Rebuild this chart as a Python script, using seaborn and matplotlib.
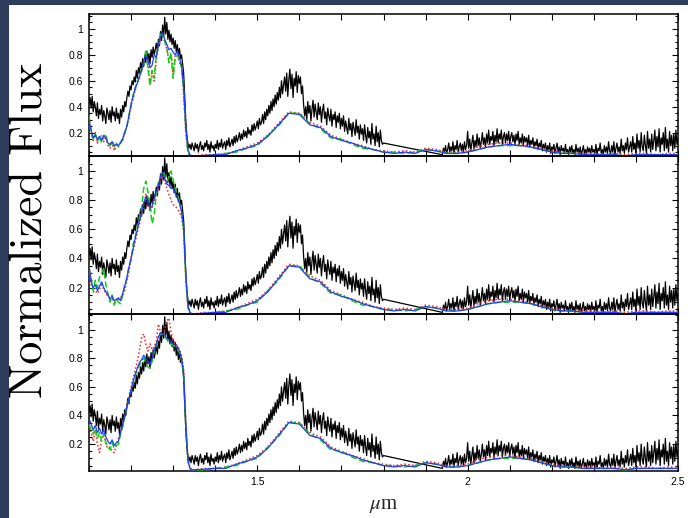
import numpy as np
import pandas as pd
import matplotlib
matplotlib.use("Agg")
import matplotlib.pyplot as plt
import seaborn as sns
from matplotlib.ticker import MultipleLocator, FuncFormatter
from matplotlib.patches import Rectangle

# ---------------- data ----------------
# observed spectrum (black), sampled every 0.0025 um, with a telluric gap 1.80-1.94
obs_wave_a = np.round(np.arange(1.100, 1.80001, 0.0025), 4)
obs_flux_a = [
    0.42, 0.47, 0.39, 0.48, 0.36, 0.44, 0.40, 0.33, 0.43, 0.31, 0.38, 0.34, 0.41, 0.29, 0.37, 0.33, 0.27, 0.39, 0.35, 0.30,
    0.37, 0.28, 0.40, 0.33, 0.36, 0.29, 0.39, 0.31, 0.35, 0.27, 0.38, 0.32, 0.41, 0.36, 0.44, 0.40, 0.47, 0.52, 0.48, 0.56,
    0.53, 0.60, 0.57, 0.63, 0.59, 0.68, 0.62, 0.70, 0.66, 0.74, 0.69, 0.77, 0.71, 0.80, 0.74, 0.83, 0.76, 0.81, 0.73, 0.84,
    0.78, 0.86, 0.80, 0.84, 0.89, 0.83, 0.92, 0.87, 0.98, 0.91, 1.03, 0.94, 1.09, 0.96, 1.05, 0.92, 0.99, 0.90, 0.96, 0.88,
    0.93, 0.85, 0.91, 0.82, 0.88, 0.79, 0.85, 0.77, 0.80, 0.73, 0.66, 0.48, 0.30, 0.18, 0.12, 0.08, 0.11, 0.07, 0.12, 0.09,
    0.06, 0.12, 0.08, 0.11, 0.05, 0.10, 0.13, 0.07, 0.10, 0.06, 0.12, 0.09, 0.14, 0.07, 0.11, 0.05, 0.13, 0.08, 0.10, 0.06,
    0.11, 0.08, 0.14, 0.07, 0.12, 0.09, 0.15, 0.08, 0.11, 0.13, 0.07, 0.14, 0.10, 0.16, 0.09, 0.12, 0.15, 0.10, 0.17, 0.12,
    0.18, 0.13, 0.16, 0.20, 0.14, 0.19, 0.15, 0.22, 0.17, 0.21, 0.16, 0.24, 0.19, 0.22, 0.18, 0.26, 0.21, 0.27, 0.22, 0.25,
    0.29, 0.23, 0.31, 0.26, 0.28, 0.34, 0.27, 0.36, 0.30, 0.38, 0.33, 0.41, 0.35, 0.44, 0.37, 0.46, 0.40, 0.49, 0.42, 0.51,
    0.45, 0.55, 0.47, 0.60, 0.50, 0.57, 0.63, 0.52, 0.66, 0.48, 0.61, 0.69, 0.54, 0.65, 0.47, 0.62, 0.56, 0.67, 0.51, 0.64,
    0.58, 0.63, 0.50, 0.56, 0.42, 0.33, 0.40, 0.30, 0.44, 0.35, 0.41, 0.29, 0.38, 0.45, 0.32, 0.42, 0.36, 0.30, 0.43, 0.34,
    0.40, 0.28, 0.37, 0.42, 0.31, 0.36, 0.26, 0.39, 0.33, 0.29, 0.38, 0.25, 0.34, 0.30, 0.36, 0.24, 0.33, 0.28, 0.35, 0.23,
    0.31, 0.25, 0.33, 0.21, 0.29, 0.24, 0.19, 0.31, 0.22, 0.27, 0.17, 0.28, 0.23, 0.18, 0.30, 0.20, 0.25, 0.15, 0.26, 0.19,
    0.23, 0.14, 0.26, 0.18, 0.12, 0.24, 0.16, 0.21, 0.11, 0.27, 0.15, 0.19, 0.10, 0.25, 0.13, 0.20, 0.09, 0.22, 0.14, 0.11,
    0.12,
]
obs_wave_b = np.round(np.arange(1.940, 2.50001, 0.0025), 4)
obs_flux_b = [
    0.03, 0.08, 0.05, 0.10, 0.04, 0.07, 0.12, 0.05, 0.09, 0.06, 0.13, 0.04, 0.10, 0.07, 0.14, 0.05, 0.09, 0.12, 0.06, 0.11,
    0.05, 0.13, 0.07, 0.10, 0.21, 0.08, 0.15, 0.06, 0.12, 0.18, 0.07, 0.14, 0.09, 0.19, 0.10, 0.16, 0.08, 0.13, 0.20, 0.11,
    0.16, 0.09, 0.19, 0.12, 0.22, 0.11, 0.17, 0.14, 0.21, 0.10, 0.18, 0.13, 0.23, 0.12, 0.19, 0.15, 0.22, 0.11, 0.17, 0.20,
    0.12, 0.19, 0.14, 0.21, 0.11, 0.17, 0.20, 0.13, 0.18, 0.10, 0.19, 0.14, 0.21, 0.11, 0.16, 0.12, 0.19, 0.10, 0.17, 0.13,
    0.16, 0.10, 0.18, 0.09, 0.14, 0.11, 0.16, 0.08, 0.13, 0.10, 0.15, 0.07, 0.12, 0.09, 0.14, 0.06, 0.11, 0.08, 0.12, 0.05,
    0.10, 0.06, 0.12, 0.04, 0.09, 0.07, 0.11, 0.04, 0.08, 0.12, 0.05, 0.09, 0.03, 0.10, 0.06, 0.08, 0.04, 0.11, 0.05, 0.07,
    0.03, 0.09, 0.05, 0.10, 0.04, 0.07, 0.03, 0.11, 0.05, 0.08, 0.04, 0.09, 0.03, 0.06, 0.10, 0.04, 0.07, 0.03, 0.09, 0.05,
    0.08, 0.03, 0.10, 0.05, 0.07, 0.04, 0.11, 0.03, 0.08, 0.06, 0.12, 0.04, 0.07, 0.03, 0.10, 0.05, 0.09, 0.04, 0.13, 0.06,
    0.04, 0.10, 0.05, 0.13, 0.03, 0.08, 0.12, 0.05, 0.09, 0.04, 0.15, 0.06, 0.10, 0.04, 0.12, 0.07, 0.16, 0.05, 0.09, 0.13,
    0.05, 0.17, 0.07, 0.12, 0.04, 0.19, 0.08, 0.14, 0.05, 0.20, 0.09, 0.06, 0.18, 0.10, 0.04, 0.21, 0.08, 0.15, 0.05, 0.19,
    0.07, 0.14, 0.22, 0.06, 0.17, 0.09, 0.23, 0.05, 0.16, 0.11, 0.20, 0.06, 0.24, 0.08, 0.15, 0.05, 0.21, 0.10, 0.18, 0.06,
    0.19, 0.08, 0.22, 0.11, 0.16,
]

# model spectra: J band (1.100-1.345, step 0.005) per panel, tail (1.35-2.50, step 0.025)
model_wave_j = np.round(np.arange(1.100, 1.3451, 0.005), 3)
model_wave_tail = np.round(np.arange(1.350, 2.5001, 0.025), 3)

p1_blue_j = [
    0.30, 0.22, 0.16, 0.18, 0.15, 0.17, 0.14, 0.18, 0.16, 0.12,
    0.11, 0.13, 0.10, 0.11, 0.10, 0.12, 0.15, 0.20, 0.25, 0.33,
    0.42, 0.48, 0.55, 0.58, 0.63, 0.68, 0.74, 0.80, 0.76, 0.70,
    0.72, 0.80, 0.78, 0.88, 0.94, 0.97, 0.92, 0.88, 0.84, 0.85,
    0.82, 0.80, 0.83, 0.78, 0.72, 0.55, 0.25, 0.07, 0.03, 0.02,
]
p1_green_j = [
    0.33, 0.20, 0.15, 0.19, 0.13, 0.18, 0.12, 0.17, 0.19, 0.11,
    0.10, 0.14, 0.09, 0.12, 0.09, 0.13, 0.14, 0.21, 0.24, 0.34,
    0.40, 0.50, 0.53, 0.60, 0.62, 0.70, 0.72, 0.84, 0.70, 0.56,
    0.68, 0.62, 0.80, 0.86, 0.96, 0.95, 0.90, 0.86, 0.74, 0.82,
    0.62, 0.78, 0.80, 0.76, 0.70, 0.52, 0.22, 0.05, 0.02, 0.02,
]
p1_red_j = [
    0.32, 0.21, 0.14, 0.20, 0.12, 0.16, 0.18, 0.13, 0.17, 0.10,
    0.08, 0.12, 0.06, 0.10, 0.11, 0.12, 0.16, 0.19, 0.26, 0.31,
    0.42, 0.46, 0.54, 0.59, 0.64, 0.67, 0.75, 0.82, 0.72, 0.58,
    0.66, 0.60, 0.76, 0.88, 0.92, 0.94, 0.91, 0.84, 0.76, 0.80,
    0.66, 0.80, 0.79, 0.74, 0.71, 0.50, 0.20, 0.06, 0.02, 0.01,
]
p2_blue_j = [
    0.36, 0.24, 0.20, 0.22, 0.18, 0.21, 0.24, 0.20, 0.17, 0.15,
    0.12, 0.14, 0.11, 0.12, 0.13, 0.11, 0.16, 0.21, 0.27, 0.34,
    0.40, 0.47, 0.54, 0.60, 0.66, 0.71, 0.78, 0.82, 0.80, 0.74,
    0.76, 0.82, 0.86, 0.90, 0.96, 0.99, 0.95, 0.91, 0.90, 0.88,
    0.88, 0.85, 0.82, 0.78, 0.72, 0.62, 0.30, 0.08, 0.03, 0.02,
]
p2_green_j = [
    0.33, 0.26, 0.18, 0.25, 0.20, 0.27, 0.30, 0.33, 0.22, 0.16,
    0.10, 0.15, 0.08, 0.12, 0.10, 0.09, 0.15, 0.22, 0.26, 0.35,
    0.39, 0.50, 0.55, 0.62, 0.68, 0.74, 0.88, 0.93, 0.86, 0.75,
    0.64, 0.70, 0.84, 0.92, 0.95, 1.00, 0.97, 0.93, 0.96, 1.00,
    0.94, 0.88, 0.84, 0.79, 0.72, 0.60, 0.28, 0.06, 0.02, 0.02,
]
p2_red_j = [
    0.30, 0.22, 0.17, 0.18, 0.16, 0.19, 0.22, 0.19, 0.16, 0.14,
    0.13, 0.12, 0.10, 0.11, 0.12, 0.13, 0.15, 0.18, 0.25, 0.31,
    0.41, 0.45, 0.52, 0.58, 0.64, 0.70, 0.76, 0.84, 0.78, 0.72,
    0.74, 0.80, 0.84, 0.88, 0.94, 0.97, 0.93, 0.88, 0.84, 0.80,
    0.77, 0.76, 0.74, 0.72, 0.68, 0.58, 0.26, 0.07, 0.03, 0.02,
]
p3_blue_j = [
    0.38, 0.34, 0.30, 0.33, 0.28, 0.31, 0.27, 0.30, 0.25, 0.22,
    0.20, 0.23, 0.19, 0.21, 0.22, 0.28, 0.33, 0.40, 0.46, 0.52,
    0.58, 0.64, 0.69, 0.73, 0.77, 0.79, 0.82, 0.80, 0.78, 0.76,
    0.80, 0.86, 0.90, 0.95, 0.98, 0.97, 0.96, 0.94, 0.93, 0.92,
    0.90, 0.89, 0.88, 0.85, 0.80, 0.70, 0.35, 0.09, 0.03, 0.02,
]
p3_green_j = [
    0.34, 0.30, 0.27, 0.31, 0.24, 0.28, 0.22, 0.27, 0.21, 0.18,
    0.16, 0.21, 0.17, 0.19, 0.20, 0.27, 0.32, 0.39, 0.45, 0.51,
    0.57, 0.63, 0.68, 0.72, 0.75, 0.78, 0.80, 0.77, 0.74, 0.73,
    0.78, 0.85, 0.89, 0.94, 0.97, 0.96, 0.95, 0.93, 0.92, 0.90,
    0.89, 0.88, 0.86, 0.84, 0.79, 0.68, 0.33, 0.08, 0.03, 0.02,
]
p3_red_j = [
    0.32, 0.28, 0.22, 0.30, 0.20, 0.14, 0.24, 0.28, 0.20, 0.17,
    0.18, 0.15, 0.14, 0.20, 0.24, 0.29, 0.34, 0.40, 0.47, 0.53,
    0.60, 0.66, 0.72, 0.78, 0.86, 0.94, 0.97, 0.90, 0.85, 0.90,
    0.86, 0.88, 0.92, 1.04, 0.98, 0.96, 1.00, 1.06, 1.08, 0.98,
    0.93, 0.90, 0.89, 0.86, 0.82, 0.72, 0.36, 0.10, 0.03, 0.02,
]

tail_blue = [
    0.02, 0.025, 0.03, 0.03, 0.06, 0.08, 0.11, 0.17, 0.26, 0.35,
    0.34, 0.26, 0.24, 0.17, 0.14, 0.12, 0.09, 0.07, 0.05, 0.04,
    0.05, 0.04, 0.07, 0.06, 0.04, 0.04, 0.05, 0.07, 0.09, 0.10,
    0.11, 0.10, 0.09, 0.07, 0.05, 0.04, 0.04, 0.03, 0.03, 0.03,
    0.03, 0.02, 0.03, 0.03, 0.03, 0.03, 0.03,
]
tail_red = [
    0.02, 0.03, 0.03, 0.04, 0.06, 0.09, 0.12, 0.18, 0.27, 0.36,
    0.35, 0.28, 0.25, 0.18, 0.15, 0.12, 0.10, 0.07, 0.06, 0.05,
    0.06, 0.05, 0.08, 0.07, 0.05, 0.05, 0.06, 0.09, 0.11, 0.12,
    0.12, 0.11, 0.10, 0.08, 0.06, 0.05, 0.04, 0.04, 0.04, 0.03,
    0.04, 0.03, 0.04, 0.04, 0.03, 0.04, 0.04,
]
tail_green = [
    0.02, 0.02, 0.03, 0.04, 0.05, 0.08, 0.10, 0.18, 0.25, 0.35,
    0.35, 0.27, 0.23, 0.16, 0.15, 0.11, 0.08, 0.07, 0.05, 0.05,
    0.04, 0.05, 0.07, 0.06, 0.04, 0.04, 0.05, 0.07, 0.09, 0.10,
    0.10, 0.10, 0.09, 0.07, 0.05, 0.04, 0.04, 0.03, 0.03, 0.03,
    0.03, 0.02, 0.03, 0.03, 0.03, 0.03, 0.03,
]

panel_models = [
    {"red": p1_red_j, "green": p1_green_j, "blue": p1_blue_j},
    {"red": p2_red_j, "green": p2_green_j, "blue": p2_blue_j},
    {"red": p3_red_j, "green": p3_green_j, "blue": p3_blue_j},
]
tails = {"red": tail_red, "green": tail_green, "blue": tail_blue}

x_ticks = [1.5, 2.0, 2.5]
y_ticks = [0.2, 0.4, 0.6, 0.8, 1.0]
panel_ylims = [(0.02, 1.115), (0.019, 1.103), (0.012, 1.109)]

# ---------------- style ----------------
sns.set_style("ticks")
plt.rcParams["font.family"] = ["Liberation Sans", "DejaVu Sans"]
plt.rcParams["mathtext.fontset"] = "stix"

W, H = 688, 518
fig = plt.figure(figsize=(W / 100, H / 100), dpi=100)
fig.patch.set_facecolor("#2e3d5c")
fig.patches.append(Rectangle((9 / W, 0), 1 - 9 / W, 1 - 5 / H, transform=fig.transFigure,
                             facecolor="white", edgecolor="none", zorder=-10))

left = 89 / W
width = (678 - 89) / W
bounds_px = [(14, 156), (156, 314), (314, 471)]

obs_wave = np.concatenate([obs_wave_a, obs_wave_b])
obs_flux = np.concatenate([obs_flux_a, obs_flux_b])
obs_df = pd.DataFrame({"wave": obs_wave, "flux": obs_flux})
model_wave = np.concatenate([model_wave_j, model_wave_tail])

styles = {
    "red": dict(color="#ff2020", ls=(0, (1, 1.5)), lw=1.1),
    "green": dict(color="#10d010", ls=(0, (4, 2)), lw=1.1),
    "blue": dict(color="#1f3cff", ls="-", lw=0.9),
}

axes = []
for i, (t, b) in enumerate(bounds_px):
    ax = fig.add_axes([left, 1 - b / H, width, (b - t) / H])
    ax.set_zorder(5)
    ax.set_facecolor("none")
    sns.lineplot(data=obs_df, x="wave", y="flux", ax=ax, color="black", lw=0.9,
                 sort=False, estimator=None, zorder=2)
    for name in ["red", "green", "blue"]:
        mdf = pd.DataFrame({"wave": model_wave,
                            "flux": np.concatenate([panel_models[i][name], tails[name]])})
        sns.lineplot(data=mdf, x="wave", y="flux", ax=ax, sort=False, estimator=None,
                     zorder=3, **styles[name])
    ax.set_xlim(1.1, 2.5)
    ax.set_ylim(*panel_ylims[i])
    ax.set_xlabel("")
    ax.set_ylabel("")
    ax.set_yticks(y_ticks)
    ax.yaxis.set_major_formatter(FuncFormatter(lambda v, p: f"{v:g}"))
    ax.yaxis.set_minor_locator(MultipleLocator(0.05))
    ax.set_xticks(x_ticks)
    ax.xaxis.set_minor_locator(MultipleLocator(0.1))
    ax.xaxis.set_major_formatter(FuncFormatter(lambda v, p: f"{v:g}"))
    ax.tick_params(which="both", direction="in", top=True, right=True, colors="black",
                   width=0.8, labelsize=7.5, pad=4)
    ax.tick_params(axis="y", which="major", length=4.5)
    ax.tick_params(axis="y", which="minor", length=2.5)
    ax.tick_params(axis="x", which="both", length=4)
    for s in ax.spines.values():
        s.set_linewidth(1.1)
        s.set_color("black")
    if i < 2:
        ax.tick_params(axis="x", labelbottom=False)
    axes.append(ax)

axes[2].set_xlabel(r"$\mu$m", fontsize=15, labelpad=7,
                   family=["Liberation Serif", "DejaVu Serif"])
fig.text(31 / W, 1 - 230 / H, "Normalized Flux", rotation=90, ha="center", va="center",
         fontsize=33, family=["cmr10", "DejaVu Serif"], color="black", zorder=6)

fig.savefig("out.png", dpi=100, facecolor=fig.get_facecolor())
